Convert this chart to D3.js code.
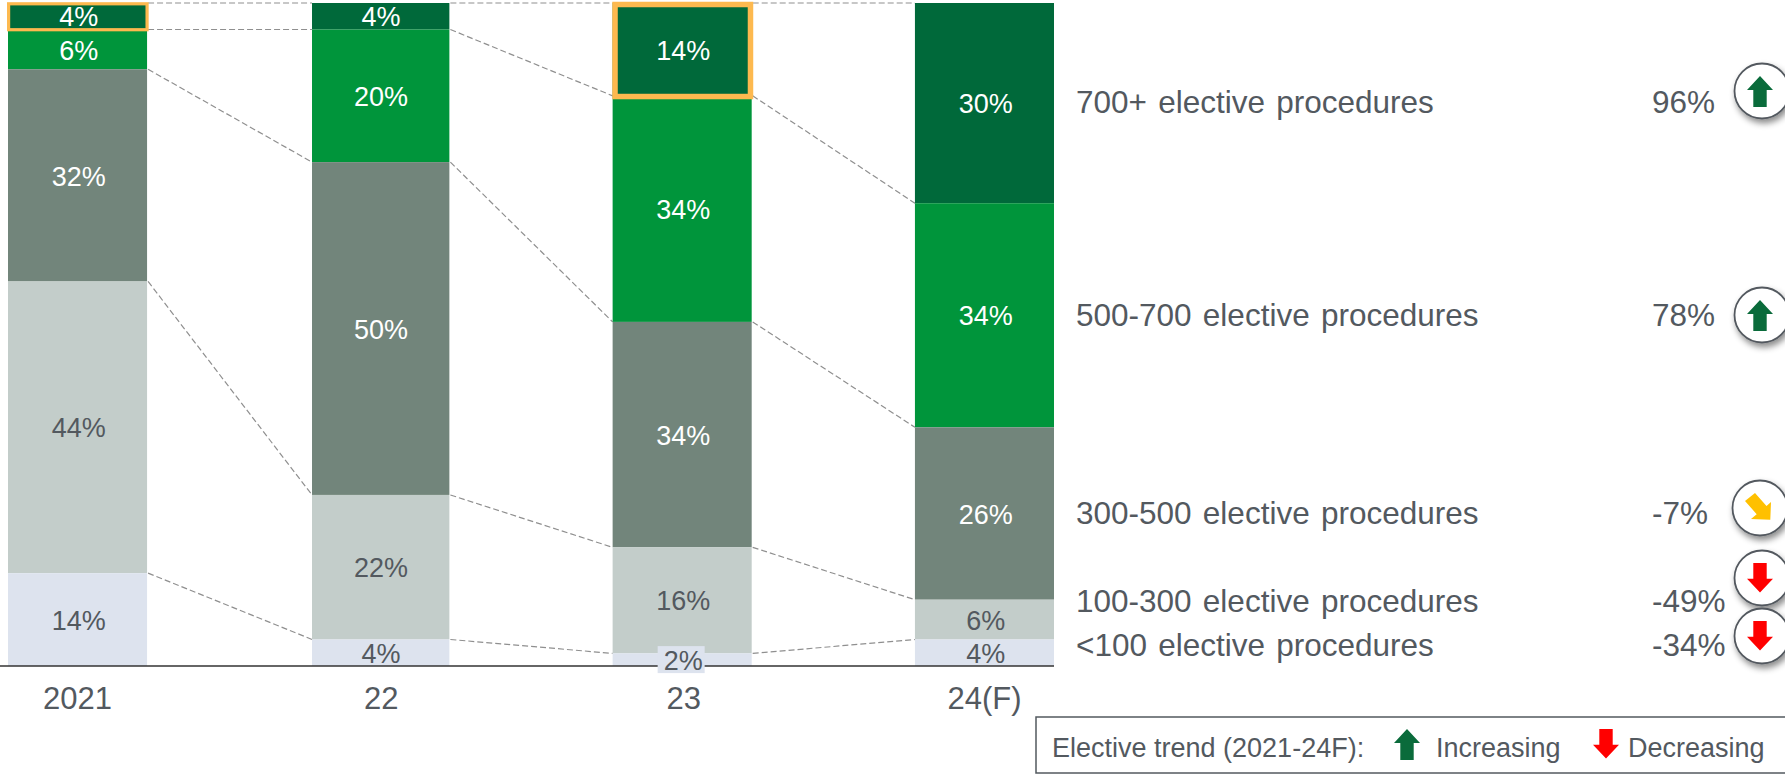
<!DOCTYPE html>
<html><head><meta charset="utf-8">
<script src="https://cdn.jsdelivr.net/npm/d3@7"></script>
<style>
html,body{margin:0;padding:0;background:#fff;overflow:hidden}
svg{display:block}
text{font-family:"Liberation Sans",Arial,sans-serif}
</style></head><body>
<svg id="c" width="1785" height="774"></svg>
<script>
const categories = ["2021","22","23","24(F)"];
const segments = ["700+ elective procedures","500-700 elective procedures","300-500 elective procedures","100-300 elective procedures","<100 elective procedures"];
const v700 = [4,4,14,30.2];
const v500 = [6,20,34.1,33.8];
const v300 = [32,50.2,34,26];
const v100 = [44,21.8,16,6];
const vLow = [14,4,1.9,4];
const trend = ["96%","78%","-7%","-49%","-34%"];
const trendKind = ["up","up","side","down","down"];
const colors = ["#00693A","#00953B","#72857B","#C3CDCA","#DDE3EE"];
const labelColors = ["#fff","#fff","#fff","#53595F","#53595F"];
const highlighted = [
  {i:0,k:0,sw:3.2,dx0:0.6,dx1:0,dy0:0.8,dy1:0.2},
  {i:2,k:0,sw:5.5,dx0:2.4,dx1:-1.2,dy0:1.5,dy1:0.7}
];

const series = [v700,v500,v300,v100,vLow];
const TEXT = "#53595F";
const svg = d3.select("#c");
const x = d3.scaleBand().domain(categories).range([8,1054]).paddingInner(0.54).paddingOuter(0);
const y = d3.scaleLinear().domain([0,100]).range([3,666]);
const barInsetLeft = [0,1.7,0,0];
const barL = i => x(categories[i]) + barInsetLeft[i];
const barR = i => x(categories[i]) + x.bandwidth();

const stacked = categories.map((c,i)=>{
  let t=0;
  return series.map((s,k)=>{const d={cat:c,i,k,v:s[i],y0:t,y1:t+s[i]};t+=s[i];return d;});
});

// connectors
const conn=[];
for(let i=0;i<categories.length-1;i++){
  conn.push({x1:barR(i),x2:barL(i+1),a:0,b:0});
  for(let k=0;k<4;k++) conn.push({x1:barR(i),x2:barL(i+1),a:stacked[i][k].y1,b:stacked[i+1][k].y1});
}
svg.append("g").selectAll("line").data(conn).join("line")
  .attr("x1",d=>d.x1+1).attr("x2",d=>d.x2).attr("y1",d=>y(d.a)).attr("y2",d=>y(d.b))
  .attr("stroke","#8f8f8f").attr("stroke-width",1.2).attr("stroke-dasharray","6 3");

// bars
svg.append("g").selectAll("rect").data(stacked.flat()).join("rect")
  .attr("x",d=>barL(d.i)).attr("width",d=>barR(d.i)-barL(d.i))
  .attr("y",d=>y(d.y0)).attr("height",d=>y(d.y1)-y(d.y0))
  .attr("fill",d=>colors[d.k]);

// axis
const axis = d3.axisBottom(x).tickSize(0).tickPadding(21);
const gx = svg.append("g").attr("transform","translate(0,666)").call(axis);
gx.select(".domain").remove();
gx.append("line").attr("x1",0).attr("x2",1054).attr("stroke","#333").attr("stroke-width",1.5);
const tickShift=[0,1.5,1.5,0];
gx.selectAll("text").attr("font-size",31).attr("fill",TEXT).attr("font-family","Liberation Sans").attr("dx",(d,i)=>tickShift[i]);

// highlight boxes
svg.append("g").selectAll("rect").data(highlighted).join("rect")
  .each(function(h){
    const d=stacked[h.i][h.k];
    d3.select(this).attr("x",barL(h.i)+h.dx0).attr("width",barR(h.i)-barL(h.i)-h.dx0+h.dx1)
      .attr("y",y(d.y0)+h.dy0).attr("height",y(d.y1)-y(d.y0)-h.dy0+h.dy1)
      .attr("stroke-width",h.sw);
  })
  .attr("fill","none").attr("stroke","#FDB94F");

// value labels
const lab = svg.append("g").selectAll("g").data(stacked.flat()).join("g")
  .attr("transform",d=>`translate(${x(d.cat)+x.bandwidth()/2+1.2},${y((d.y0+d.y1)/2)+0.4})`);
lab.filter(d=>Math.round(d.v)===2).append("rect").attr("x",-25.7).attr("width",47).attr("y",-14).attr("height",27).attr("fill",colors[4]);
lab.append("text").attr("text-anchor","middle").attr("dy","0.36em").attr("font-size",27)
  .attr("fill",d=>labelColors[d.k]).text(d=>Math.round(d.v)+"%");

// right hand labels
const rightLast = stacked[categories.length-1];
const nudge = [-1,-1,-1,-19,-8];
const rows = svg.append("g").selectAll("g").data(segments).join("g")
  .attr("transform",(d,k)=>`translate(0,${y((rightLast[k].y0+rightLast[k].y1)/2)+nudge[k]})`);
rows.append("text").attr("x",1076).attr("dy","0.36em").attr("font-size",31.5).attr("fill",TEXT)
  .attr("word-spacing",2.5).text(d=>d);
rows.append("text").attr("x",1652).attr("dy","0.36em").attr("font-size",31.5).attr("fill",TEXT).text((d,k)=>trend[k]);

// trend badges
const defs = svg.append("defs");
const f = defs.append("filter").attr("id","sh").attr("x","-30%").attr("y","-30%").attr("width","170%").attr("height","170%");
f.append("feDropShadow").attr("dx",2).attr("dy",4).attr("stdDeviation",3).attr("flood-color","#000").attr("flood-opacity",.45);
const upPath="M0,-15 L13,-1 L6.7,-1 L6.7,16 L-6.7,16 L-6.7,-1 L-13,-1 Z";
const downPath="M0,14.5 L13,0.7 L6.7,0.7 L6.7,-15 L-6.7,-15 L-6.7,0.7 L-13,0.7 Z";
const sidePath="M12.3,11.7 L-7,11 L-1.3,6.2 L-13,-7 L-3,-15 L8.5,-2 L13,-6 Z";
const badgeX=[1762,1762,1760,1762,1762];
const badgeY=[91,315,508,578,636];
const kinds={up:{p:upPath,c:"#0A6B3B"},down:{p:downPath,c:"#FF0000"},side:{p:sidePath,c:"#FFC000"}};
const badges=svg.append("g").selectAll("g").data(trendKind).join("g")
  .attr("transform",(d,k)=>`translate(${badgeX[k]},${badgeY[k]})`);
badges.append("circle").attr("r",27.5).attr("fill","#fff").attr("stroke","#53595F").attr("stroke-width",1.8).attr("filter","url(#sh)");
badges.append("path").attr("d",d=>kinds[d].p).attr("fill",d=>kinds[d].c).attr("transform","translate(-2,0)");

// legend
const lg=svg.append("g");
lg.append("rect").attr("x",1036).attr("y",717).attr("width",760).attr("height",56).attr("fill","#fff").attr("stroke","#53595F").attr("stroke-width",1.5);
const lt=(s,xx)=>lg.append("text").attr("x",xx).attr("y",757).attr("font-size",27).attr("fill",TEXT).text(s);
lt("Elective trend (2021-24F):",1052);
lg.append("path").attr("d",upPath).attr("fill","#0A6B3B").attr("transform","translate(1407,744)");
lt("Increasing",1436);
lg.append("path").attr("d",downPath).attr("fill","#FF0000").attr("transform","translate(1606,744)");
lt("Decreasing",1628);
</script>
</body></html>
